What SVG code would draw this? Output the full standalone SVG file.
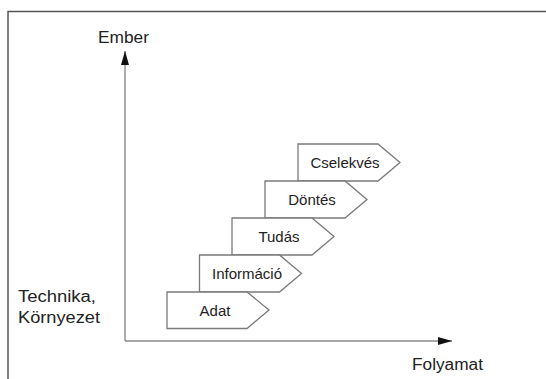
<svg xmlns="http://www.w3.org/2000/svg" width="546" height="379" viewBox="0 0 546 379">
<style>
.lbl{font-family:"Liberation Sans","DejaVu Sans",sans-serif;font-size:15px;fill:#222}
.axl{font-size:16px}
.box{fill:#ffffff;stroke:#7a7a7a;stroke-width:1.3}
.ax{stroke:#8a8a8a;stroke-width:1.4;fill:none}
</style>
<defs>
<marker id="ah" viewBox="0 0 14 8" refX="14" refY="4" markerWidth="14" markerHeight="8" markerUnits="userSpaceOnUse" orient="auto">
<path d="M0,0 L14,4 L0,8 Z" fill="#111"/>
</marker>
</defs>
<rect width="546" height="379" fill="#ffffff"/>
<path d="M8,379 V11.5 H546" fill="none" stroke="#555" stroke-width="1.5"/>
<g id="connectors">
<line class="ax" x1="125" y1="341" x2="125" y2="51" marker-end="url(#ah)"/>
<line class="ax" x1="125" y1="341" x2="452" y2="341" marker-end="url(#ah)"/>
</g>
<g id="ember"><text class="lbl axl" x="98" y="43" textLength="51" lengthAdjust="spacingAndGlyphs">Ember</text></g>
<g id="technika"><text class="lbl axl" x="18" y="302" textLength="78" lengthAdjust="spacingAndGlyphs">Technika,</text><text class="lbl axl" x="18" y="323" textLength="82" lengthAdjust="spacingAndGlyphs">Környezet</text></g>
<g id="folyamat"><text class="lbl axl" x="412" y="370" textLength="71" lengthAdjust="spacingAndGlyphs">Folyamat</text></g>
<g id="cselekves"><path class="box" d="M298,144 H378 L400,162.5 L378,181 H298 Z"/><text class="lbl" x="345" y="168" text-anchor="middle">Cselekvés</text></g>
<g id="dontes"><path class="box" d="M265,181 H345 L367,199.5 L345,218 H265 Z"/><text class="lbl" x="312" y="205" text-anchor="middle">Döntés</text></g>
<g id="tudas"><path class="box" d="M232,218 H312 L334,236.5 L312,255 H232 Z"/><text class="lbl" x="279" y="242" text-anchor="middle">Tudás</text></g>
<g id="informacio"><path class="box" d="M199.5,255 H279.5 L301.5,273.5 L279.5,292 H199.5 Z"/><text class="lbl" x="247" y="279" text-anchor="middle">Információ</text></g>
<g id="adat"><path class="box" d="M167,292 H247 L269,310 L247,328.5 H167 Z"/><text class="lbl" x="215" y="316" text-anchor="middle">Adat</text></g>
</svg>
